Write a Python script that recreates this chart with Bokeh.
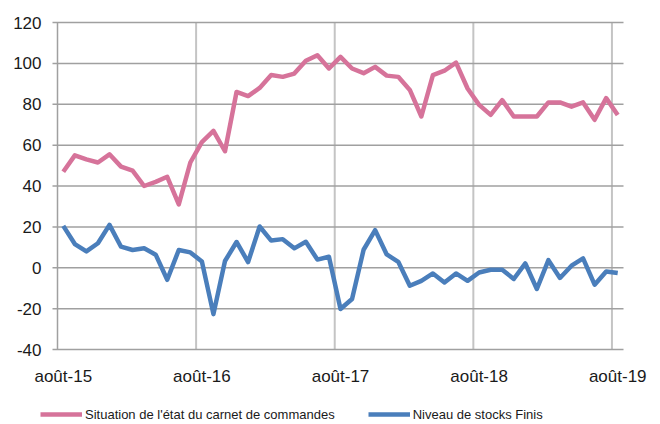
from bokeh.plotting import figure
from bokeh.models import Legend, LegendItem, Range1d
from bokeh.core.properties import value
from bokeh.embed import file_html
from bokeh.resources import INLINE

# Monthly data, août-15 .. août-19 (49 months)
months = list(range(49))
carnet = [47, 55, 53, 51.5, 55.5, 49.5, 47.5, 40, 42, 44.5, 31, 51.5,
          61.5, 67, 57, 86, 84, 88, 94.3, 93.4, 95, 101.3, 104, 97.5,
          103.2, 97.5, 95.2, 98.3, 94, 93.4, 87, 74, 94.3, 96.4, 100.4, 87.7,
          79.7, 74.8, 82, 74, 74, 74, 80.9, 80.9, 78.8, 80.9, 72.4, 83, 74.7]
stocks = [20.5, 11.6, 8, 12, 21, 10.3, 8.7, 9.5, 6.4, -5.9, 8.7, 7.5,
          3.1, -22.7, 3.3, 12.6, 2.8, 20.2, 13.3, 14, 9.5, 12.7, 4, 5.4,
          -20.2, -15.3, 8.8, 18.4, 6.5, 2.9, -8.8, -6.4, -2.8, -7.2, -2.8, -6.4,
          -2.3, -1, -1, -5.5, 2.1, -10.4, 3.7, -5, 1, 4.6, -8.3, -1.8, -2.6]
y_min, y_max = -40, 120
y_ticks = [-40, -20, 0, 20, 40, 60, 80, 100, 120]
y_tick_labels = [str(t) for t in y_ticks]
x_tick_months = [0, 12, 24, 36, 48]
x_tick_labels = ["août-15", "août-16", "août-17", "août-18", "août-19"]
series_names = ["Situation de l'état du carnet de commandes", "Niveau de stocks Finis"]

W, H = 660, 424
# plotting area (pixels) inside the canvas
area_left, area_right, area_top, area_bottom = 57, 623, 22, 349
n_cat = len(months)
ppx = (area_right - area_left) / n_cat          # pixels per month
ppy = (area_bottom - area_top) / (y_max - y_min)  # pixels per unit

x_range = Range1d(-area_left / ppx, n_cat + (W - area_right) / ppx)
y_range = Range1d(y_min - (H - area_bottom) / ppy, y_max + area_top / ppy)

p = figure(width=W, height=H, output_backend="svg", toolbar_location=None,
           min_border_left=0, min_border_right=0, min_border_top=0, min_border_bottom=0,
           x_range=x_range, y_range=y_range)
p.outline_line_color = None
p.background_fill_color = "white"
p.border_fill_color = "white"
p.xaxis.visible = False
p.yaxis.visible = False
p.xgrid.visible = False
p.ygrid.visible = False

xs = [m + 0.5 for m in months]
tick_len = 5 / ppx

# vertical gridlines (category boundaries, yearly)
vx = x_tick_months[1:]
p.segment(x0=vx, x1=vx, y0=[y_min] * len(vx), y1=[y_max] * len(vx),
          line_color="#C4C4C4", line_width=2)
# horizontal gridlines with outward tick marks
p.segment(x0=[-tick_len] * len(y_ticks), x1=[n_cat] * len(y_ticks), y0=y_ticks, y1=y_ticks,
          line_color="#A0A0A0", line_width=1.5)
# value axis line
p.segment(x0=[0], x1=[0], y0=[y_min], y1=[y_max], line_color="#A0A0A0", line_width=1.5)

# value tick labels
p.text(x=[0] * len(y_ticks), y=y_ticks, text=y_tick_labels, text_align="right",
       text_baseline="middle", x_offset=-16,
       text_font=value("Liberation Sans"), text_font_size="17px", text_color="#1a1a1a")
# category labels under the -40 line
p.text(x=[m + 0.5 for m in x_tick_months], y=[y_min] * len(x_tick_months),
       text=x_tick_labels, text_align="center", text_baseline="top", y_offset=17,
       text_font=value("Liberation Sans"), text_font_size="17px", text_color="#1a1a1a")

r1 = p.line(xs, carnet, line_color="#D6739A", line_width=4.5, line_join="round")
r2 = p.line(xs, stocks, line_color="#4A7EBB", line_width=4.5, line_join="round")

legend = Legend(items=[LegendItem(label=series_names[0], renderers=[r1]),
                       LegendItem(label=series_names[1], renderers=[r2])],
                orientation="horizontal", location=(40, 2),
                padding=0, margin=0, spacing=33, label_standoff=3,
                glyph_width=42, glyph_height=16, label_height=16,
                label_text_font="Liberation Sans", label_text_font_size="13px",
                label_text_color="#1a1a1a",
                background_fill_alpha=0, border_line_color=None)
p.add_layout(legend, "center")

open("out.html", "w").write(file_html(p, INLINE))
